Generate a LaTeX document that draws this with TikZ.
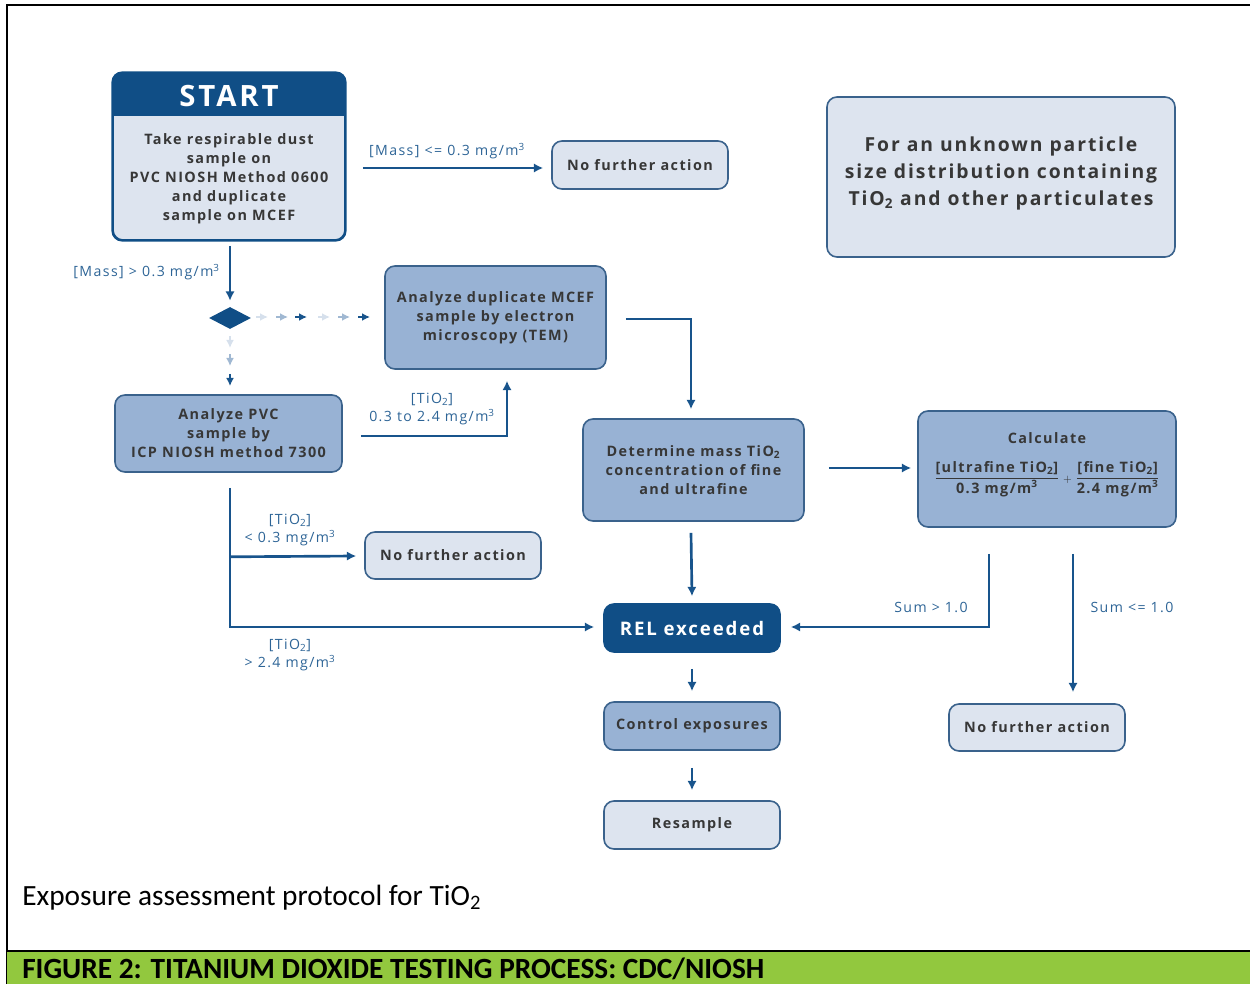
\documentclass[tikz,border=0pt]{standalone}
\usepackage{fontspec}
\setmainfont{Carlito}
\newfontfamily\boxfont{Open Sans}[LetterSpace=10]
\usetikzlibrary{arrows.meta,shapes.geometric,calc}

\definecolor{dkblue}{RGB}{16,78,134}
\definecolor{mdblue}{RGB}{152,178,212}
\definecolor{ltblue}{RGB}{221,228,239}
\definecolor{edgeblue}{RGB}{58,98,140}
\definecolor{arrblue}{RGB}{24,84,140}
\definecolor{lblblue}{RGB}{45,100,150}
\definecolor{boxtext}{RGB}{55,55,55}
\definecolor{faint}{RGB}{214,224,236}
\definecolor{pale}{RGB}{160,184,210}
\definecolor{barcol}{RGB}{146,200,62}

\tikzset{
  box/.style={rounded corners=7.5pt, line width=1.2pt, draw=edgeblue, align=center, text=boxtext,
    font=\boxfont\bfseries\fontsize{10.8}{14.25}\selectfont, inner sep=0pt},
  ltbox/.style={box, fill=ltblue},
  mdbox/.style={box, fill=mdblue},
  dkbox/.style={box, fill=dkblue, draw=dkblue, text=white},
  flow/.style={draw=arrblue, line width=2pt, -{Latex[length=7pt,width=7pt]}},
  dots/.style={line width=2pt, -{Latex[length=6pt,width=6pt]}},
  lbl/.style={text=lblblue, font=\boxfont\fontsize{10.6}{14}\selectfont, align=center, inner sep=0pt},
}

\begin{document}
\begin{tikzpicture}[x=0.75pt,y=0.75pt,yscale=-1,xscale=1]
\useasboundingbox (0,0) rectangle (1250,984);

%Frame and caption bar
\draw [line width=1.5pt] (7,984) -- (7,5) -- (1250,5) ;
\fill [barcol] (7,952) rectangle (1250,984) ;
\draw [line width=1.5pt] (7,951) -- (1250,951) ;

%Shape: Start box
\node [ltbox, draw=dkblue, minimum width=174pt, minimum height=125.25pt] (start) at (229,156.5) {};
\begin{scope}
\clip [rounded corners=7.5pt] (start.south west) rectangle (start.north east) ;
\fill [dkblue] (start.north west) rectangle ($(start.north east)+(0,44)$) ;
\end{scope}
\draw [rounded corners=7.5pt, line width=1.2pt, draw=dkblue] (start.south west) rectangle (start.north east) ;
% Text Node
\node [text=white, font=\boxfont\bfseries\fontsize{22}{26}\selectfont] (starttitle) at (229,96) {START};
% Text Node
\node [box, draw=none] (starttext) at (229,178.5) {Take respirable dust\\sample on\\PVC NIOSH Method 0600\\and duplicate\\sample on MCEF};

%Shape: Info box
\node [ltbox, minimum width=261pt, minimum height=120pt] (info) at (1001,177) {};
% Text Node
\node [box, draw=none, font=\boxfont\bfseries\fontsize{14.5}{20.25}\selectfont] (infotext) at (1001,173)
  {For an unknown particle\\size distribution containing\\TiO\textsubscript{2} and other particulates};

%Shape: Decision
\node [diamond, fill=dkblue, minimum width=31.5pt, minimum height=16.5pt, inner sep=0pt, aspect=2] (dec) at (230,318) {};

%Shape: Boxes
\node [ltbox, minimum width=132pt, minimum height=36pt] (nfaA) at (640,165) {No further action};
\node [mdbox, minimum width=165.75pt, minimum height=77.25pt] (mcef) at (495.5,317.5) {Analyze duplicate MCEF\\sample by electron\\microscopy (TEM)};
\node [mdbox, minimum width=170.25pt, minimum height=57.75pt] (pvc) at (228.5,433.5) {Analyze PVC\\sample by\\ICP NIOSH method 7300};
\node [mdbox, minimum width=165.75pt, minimum height=76.5pt] (det) at (693.5,470) {Determine mass TiO\textsubscript{2}\\concentration of fine\\and ultrafine};
\node [mdbox, minimum width=193.5pt, minimum height=87pt] (calc) at (1047,469) {};
\node [ltbox, minimum width=132pt, minimum height=35.25pt] (nfaB) at (453,555.5) {No further action};
\node [dkbox, minimum width=132pt, minimum height=36pt, font=\boxfont\bfseries\fontsize{14}{16}\selectfont] (rel) at (692,628) {REL exceeded};
\node [mdbox, minimum width=132pt, minimum height=36pt] (ctrl) at (692,726) {Control exposures};
\node [ltbox, minimum width=132pt, minimum height=36pt] (resa) at (692,825) {Resample};
\node [ltbox, minimum width=132pt, minimum height=35.25pt] (nfaC) at (1037,727.5) {No further action};

% Text Node
\node [box, draw=none] (calctitle) at (1047,438) {Calculate};
% Text Node
\node [box, draw=none] (calcfrac) at (1047,479)
  {$\displaystyle\frac{\mbox{[ultrafine TiO\textsubscript{2}]}}{\mbox{0.3 mg/m\textsuperscript{3}}}
   \mathbin{\scriptstyle+}
   \frac{\mbox{[fine TiO\textsubscript{2}]}}{\mbox{2.4 mg/m\textsuperscript{3}}}$};

%Connectors
\draw [flow] ($(start.east |- nfaA.west)+(17,3)$) -- ($(nfaA.west)+(-8,3)$) ;
\draw [flow] ($(start.south)+(1,5)$) -- ($(dec.north)+(0,-6)$) ;
\foreach \x/\c in {268/faint,288/pale,307/arrblue,330/faint,350/pale,370/arrblue}
  \draw [dots, draw=\c] ($(dec.center)+(\x-242,-1)$) -- ($(dec.center)+(\x-230,-1)$) ;
\foreach \y/\c in {348/faint,366/pale,386/arrblue}
  \draw [dots, draw=\c] ($(dec.center)+(0,\y-330)$) -- ($(dec.center)+(0,\y-318)$) ;
\draw [flow] ($(pvc.east)+(18,2.5)$) -| ($(mcef.south)+(11.5,11)$) ;
\draw [flow] ($(mcef.east)+(19,1.5)$) -| ($(det.north)+(-2.5,-9)$) ;
\draw [flow] ($(det.east)+(24,-2)$) -- ($(calc.west)+(-6,-1)$) ;
\draw [flow] ($(det.south)+(-2.5,11)$) -- ($(rel.north)+(0,-7)$) ;
\draw [flow] ($(calc.south)+(-58,26)$) |- ($(rel.east)+(10,-1)$) ;
\draw [flow] ($(calc.south)+(26,26)$) -- ($(nfaC.north)+(36,-11)$) ;
\draw [flow] ($(pvc.south)+(1.5,15)$) |- ($(rel.west)+(-9,-1)$) ;
\draw [flow] ($(pvc.south)+(1.5,84)$) -- ($(nfaB.west)+(-8,0.5)$) ;
\draw [flow] ($(rel.south)+(0,16)$) -- ($(ctrl.north)+(0,-10)$) ;
\draw [flow] ($(ctrl.south)+(0,17)$) -- ($(resa.north)+(0,-10)$) ;

% Text Node
\node [lbl] (lmassA) at (447,151) {[Mass] <= 0.3 mg/m\textsuperscript{3}};
% Text Node
\node [lbl, anchor=east] (lmassB) at (220,272) {[Mass] > 0.3 mg/m\textsuperscript{3}};
% Text Node
\node [lbl] (lmid) at (432,409) {[TiO\textsubscript{2}]\\0.3 to 2.4 mg/m\textsuperscript{3}};
% Text Node
\node [lbl] (llow) at (290,530) {[TiO\textsubscript{2}]\\< 0.3 mg/m\textsuperscript{3}};
% Text Node
\node [lbl] (lhigh) at (290,655) {[TiO\textsubscript{2}]\\> 2.4 mg/m\textsuperscript{3}};
% Text Node
\node [lbl] (lsumA) at (931,607) {Sum > 1.0};
% Text Node
\node [lbl] (lsumB) at (1132,607) {Sum <= 1.0};

% Text Node
\node [anchor=base west, font=\fontsize{22}{26}\selectfont, inner sep=0pt] (caption) at (22,905) {Exposure assessment protocol for TiO\textsubscript{2}};
% Text Node
\node [anchor=west, font=\bfseries\fontsize{22}{26}\selectfont, inner sep=0pt] (figtitle) at (22,969) {FIGURE 2: TITANIUM DIOXIDE TESTING PROCESS: CDC/NIOSH};

\end{tikzpicture}
\end{document}
